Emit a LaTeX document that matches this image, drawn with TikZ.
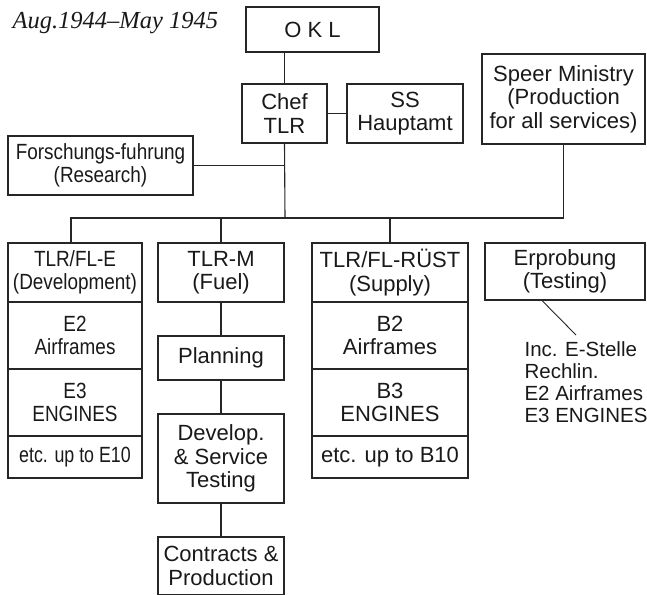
\documentclass[tikz,border=0pt]{standalone}
\usepackage{fontspec}
\setmainfont{Liberation Sans}
\newfontfamily\titlefont{Liberation Serif}
\newfontfamily\condfont[FakeStretch=0.86]{Liberation Sans}
\newfontfamily\condfontb[FakeStretch=0.81]{Liberation Sans}
\begin{document}
\begin{tikzpicture}[x=1pt,y=-1pt,
  line width=1.1pt,
  every node/.style={text=black!90},
  box/.style 2 args={draw=black!85, line width=1.1pt, minimum width=#1, minimum height=#2,
    inner sep=0pt, align=center, font=\fontsize{22}{23.5}\selectfont},
  cbox/.style 2 args={box={#1}{#2}, font=\condfont\fontsize{22}{23.5}\selectfont},
  link/.style={draw=black!85, line width=1.1pt}]
\useasboundingbox (0,0) rectangle (647,594);
\clip (0,0) rectangle (647,594);

\node[anchor=base west, inner sep=0pt, font=\titlefont\itshape\fontsize{24.5}{26}\selectfont] (title) at (12,29) {Aug.1944–May 1945};

\node[box={133}{45}] (okl) at (312.5,29.5) {O K L};
\node[box={85}{59}] (chef) at (284.5,113.5) {Chef\\TLR};
\node[box={116}{59}] (ss) at (405,113.5) {SS\\Hauptamt};
\node[box={163}{90}] (speer) at (563.5,99) {Speer Ministry\\(Production\\for all services)};
\node[cbox={185}{59}] (forsch) at (100.5,165.5) {Forschungs-fuhrung\\(Research)};

% left column
\node[cbox={134}{59}] (eh) at (75,272.5) {TLR/FL-E\\(Development)};
\node[cbox={134}{67}] (e2) at (75,335.5) {E2\\Airframes};
\node[cbox={134}{67}] (e3) at (75,402.5) {E3\\ENGINES};
\node[cbox={134}{42}, font=\condfontb\fontsize{22}{23.5}\selectfont] (e10) at (75,457) {etc. up to E10};

% middle column
\node[box={126}{59}] (mh) at (221,272.5) {TLR-M\\(Fuel)};
\node[box={126}{44}] (plan) at (221,358) {Planning};
\node[box={126}{89}] (dev) at (221,458.5) {Develop.\\\&~Service\\Testing};
\node[box={126}{58}] (contr) at (221,566) {Contracts \&\\Production};

% right column
\node[box={156}{59}] (rh) at (390,272.5) {TLR/FL-RÜST\\(Supply)};
\node[box={156}{67}] (b2) at (390,335.5) {B2\\Airframes};
\node[box={156}{67}] (b3) at (390,402.5) {B3\\ENGINES};
\node[box={156}{42}] (b10) at (390,457) {etc. up to B10};

% testing
\node[box={160}{57}] (erp) at (565,271.5) {Erprobung\\(Testing)};
\node[anchor=north west, inner sep=0pt, align=left, font=\fontsize{20.5}{22}\selectfont] (info) at (524,341) {Inc. E-Stelle\\Rechlin.\\E2 Airframes\\E3 ENGINES};
\coordinate (tip) at (576,335);

% connectors
\coordinate (bus) at (285,218);
\draw[link] (chef.north) -- (chef.north |- okl.south);
\draw[link] (chef.east) -- (ss.west);
\draw[link] (chef.south) -- (bus);
\draw[link] (forsch.east) -- (forsch.east -| bus);
\draw[link] (speer.south) |- ([xshift=-4pt]eh.north |- bus) -- ([xshift=-4pt]eh.north);
\draw[link] (mh.north) -- (mh.north |- bus);
\draw[link] (rh.north) -- (rh.north |- bus);
\draw[link] (mh.south) -- (plan.north);
\draw[link] (plan.south) -- (dev.north);
\draw[link] (dev.south) -- (contr.north);
\draw[link, line width=0.9pt] ([xshift=-23pt]erp.south) -- (tip);
\end{tikzpicture}
\end{document}
